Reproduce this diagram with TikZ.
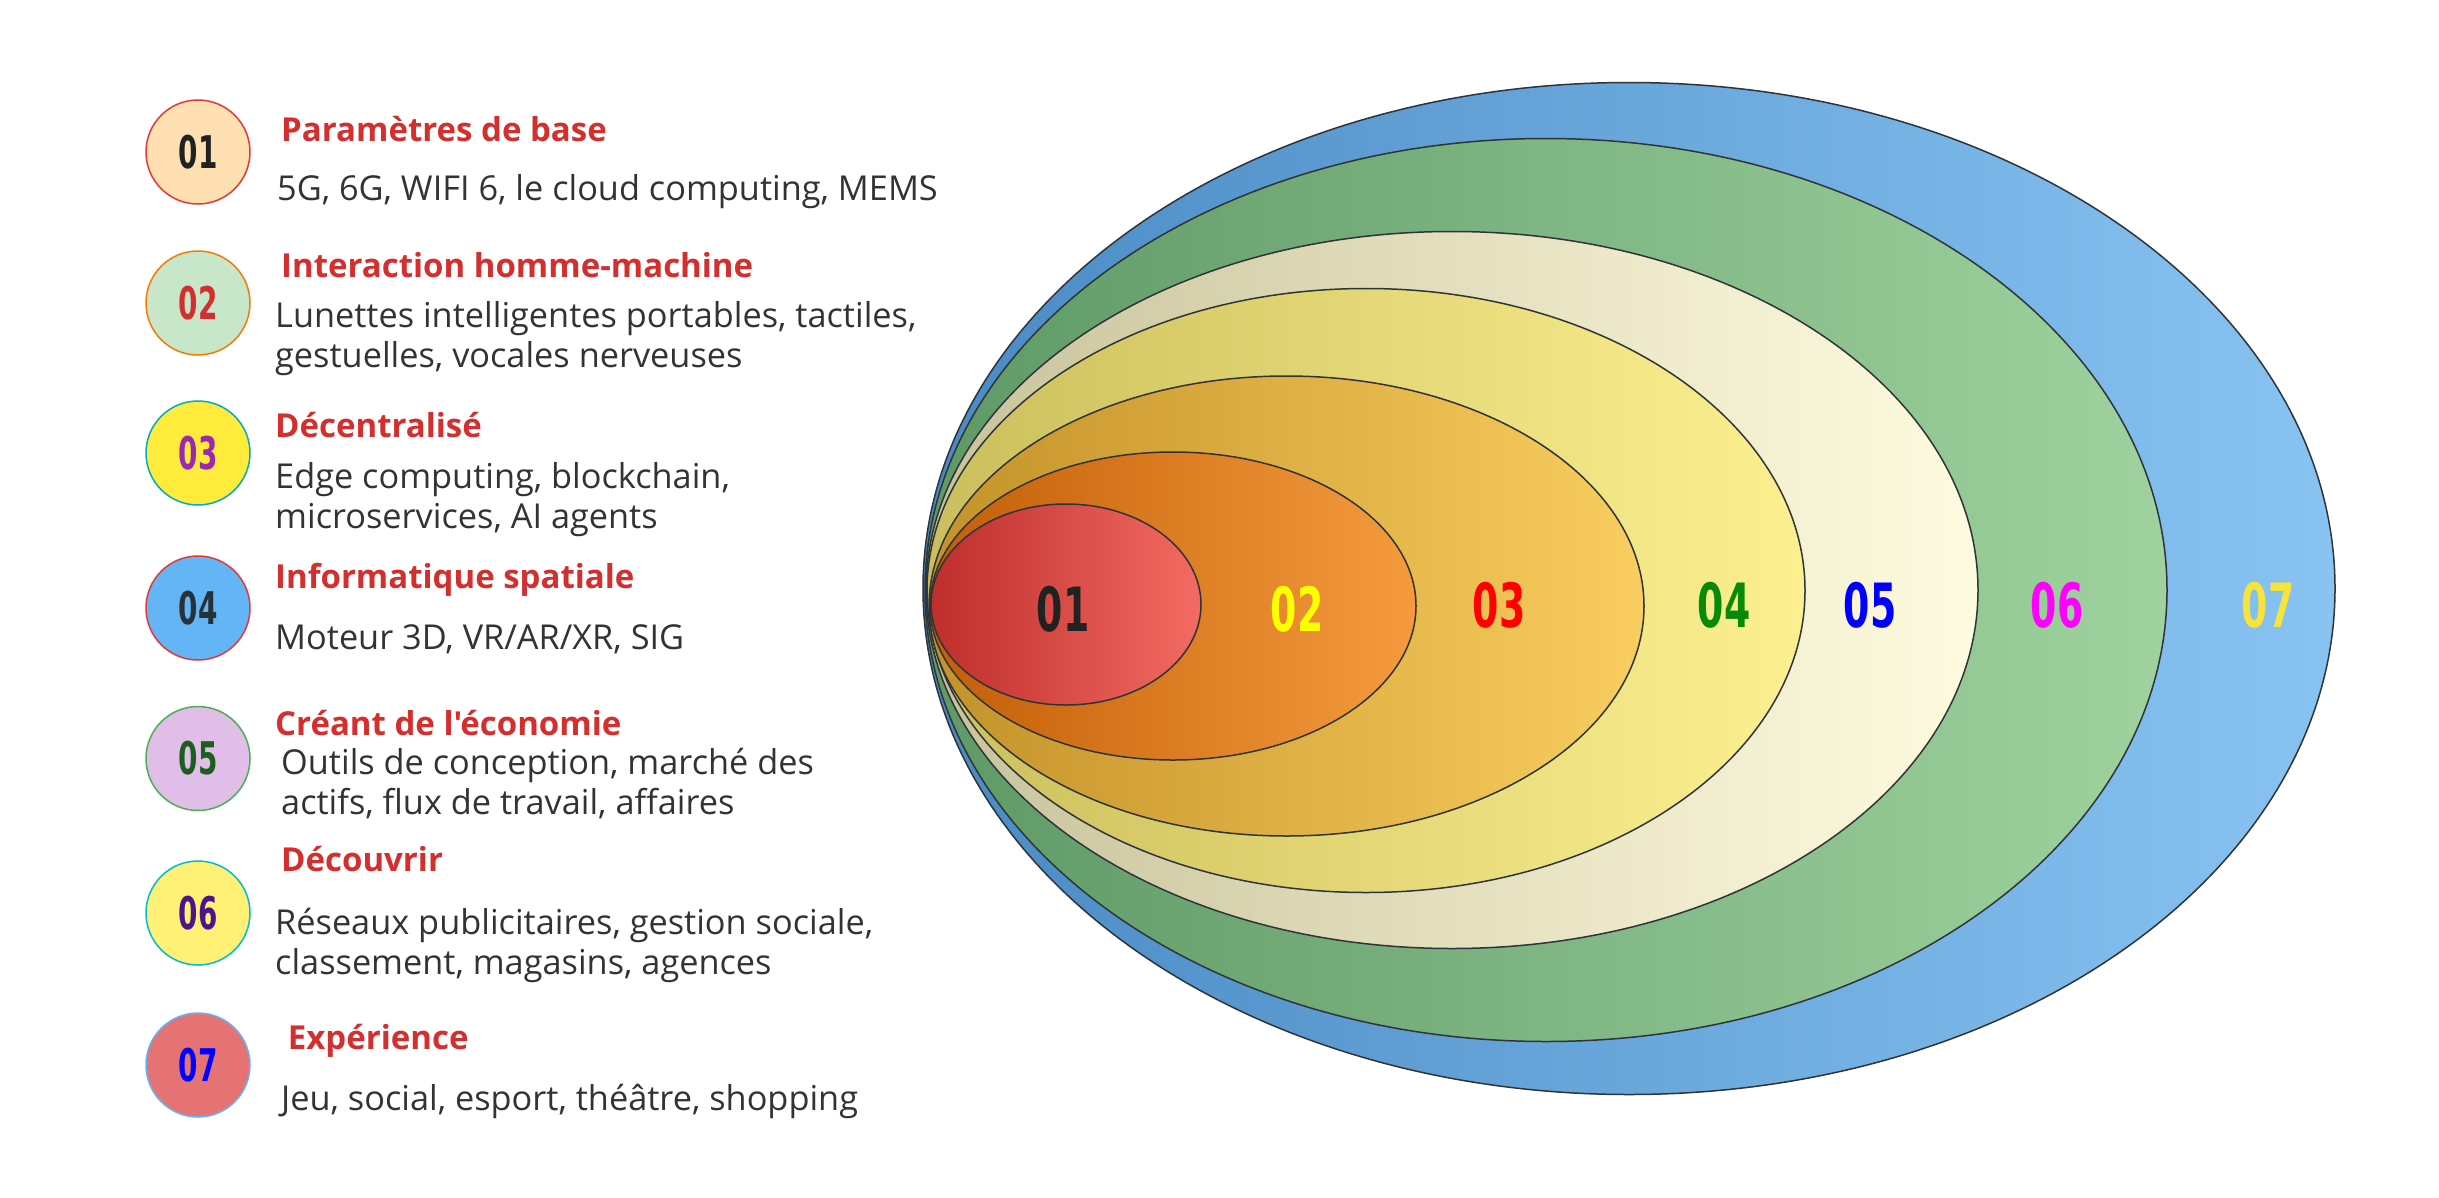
\documentclass[tikz,border=0pt]{standalone}
\usepackage{fontspec}
\setmainfont{Open Sans}
\newfontfamily\headfont{Open Sans}[Ligatures=TeXOff]
\newfontfamily\numfont{DejaVu Sans}
\usetikzlibrary{shapes.geometric}
\definecolor{ringline}{HTML}{2F3438}
\definecolor{headred}{HTML}{D32F2F}
\definecolor{bodygray}{HTML}{333333}
\definecolor{eSevL}{HTML}{4A8AC4}\definecolor{eSevR}{HTML}{88C3F2}
\definecolor{eSixL}{HTML}{5E9966}\definecolor{eSixR}{HTML}{9FD29F}
\definecolor{eFivL}{HTML}{C8C39B}\definecolor{eFivR}{HTML}{FFFBE0}
\definecolor{eFouL}{HTML}{CBBE5C}\definecolor{eFouR}{HTML}{FDF091}
\definecolor{eThrL}{HTML}{C4922A}\definecolor{eThrR}{HTML}{F9CD5F}
\definecolor{eTwoL}{HTML}{C25E08}\definecolor{eTwoR}{HTML}{F59B3E}
\definecolor{eOneL}{HTML}{BE2E2C}\definecolor{eOneR}{HTML}{F36B63}
\definecolor{nA}{HTML}{222222}\definecolor{nB}{HTML}{FFFF00}
\definecolor{nC}{HTML}{FF0000}\definecolor{nD}{HTML}{088A08}
\definecolor{nE}{HTML}{0000FF}\definecolor{nF}{HTML}{FF00FF}
\definecolor{nG}{HTML}{F7E43A}
\definecolor{cAd}{HTML}{E53935}\definecolor{cAf}{HTML}{FFE0B2}\definecolor{cAt}{HTML}{212121}
\definecolor{cBd}{HTML}{F57C00}\definecolor{cBf}{HTML}{C8E6C9}\definecolor{cBt}{HTML}{D32F2F}
\definecolor{cCd}{HTML}{00ACC1}\definecolor{cCf}{HTML}{FFEB3B}\definecolor{cCt}{HTML}{9C27B0}
\definecolor{cDd}{HTML}{E53935}\definecolor{cDf}{HTML}{64B5F6}\definecolor{cDt}{HTML}{263238}
\definecolor{cEd}{HTML}{4CAF50}\definecolor{cEf}{HTML}{E1BEE7}\definecolor{cEt}{HTML}{1B5E20}
\definecolor{cFd}{HTML}{00BCD4}\definecolor{cFf}{HTML}{FFF176}\definecolor{cFt}{HTML}{4A148C}
\definecolor{cGd}{HTML}{64B5F6}\definecolor{cGf}{HTML}{E57373}\definecolor{cGt}{HTML}{0000FF}
\newcommand\sqz[1]{\scalebox{0.62}[1]{#1}}
\begin{document}
\begin{tikzpicture}[x=1pt,y=-1pt,
  ring/.style={ellipse, draw=ringline, line width=1.5pt, inner sep=0pt},
  bignum/.style={font=\numfont\bfseries\fontsize{61}{61}\selectfont, inner sep=0pt},
  badge/.style={circle, minimum size=104pt, line width=1.5pt, inner sep=0pt},
  smallnum/.style={font=\numfont\bfseries\fontsize{45}{45}\selectfont, inner sep=0pt},
  head/.style={anchor=base west, inner sep=0pt, text=headred, font=\headfont\bfseries\fontsize{33}{38}\selectfont},
  body/.style={anchor=base west, inner sep=0pt, text=bodygray, font=\fontsize{34.3}{40}\selectfont}]
\useasboundingbox (0,0) rectangle (2439,1197);
\fill[white] (0,0) rectangle (2439,1197);

% nested ellipses
\node[ring, minimum width=1412pt, minimum height=1012pt, left color=eSevL, right color=eSevR] (e7) at (1629,588.5) {};
\node[ring, minimum width=1242pt, minimum height=903pt, left color=eSixL, right color=eSixR] (e6) at (1546,590) {};
\node[ring, minimum width=1052pt, minimum height=717pt, left color=eFivL, right color=eFivR] (e5) at (1452,590) {};
\node[ring, minimum width=878pt, minimum height=604pt, left color=eFouL, right color=eFouR] (e4) at (1366,590.5) {};
\node[ring, minimum width=715pt, minimum height=460pt, left color=eThrL, right color=eThrR] (e3) at (1286.5,606) {};
\node[ring, minimum width=486pt, minimum height=308pt, left color=eTwoL, right color=eTwoR] (e2) at (1173,606) {};
\node[ring, minimum width=270pt, minimum height=201pt, left color=eOneL, right color=eOneR] (e1) at (1066,604.5) {};

% numbers in the rings
\node[bignum, text=nA] (n1) at (1063,609) {\sqz{01}};
\node[bignum, text=nB] (n2) at (1297,609) {\sqz{02}};
\node[bignum, text=nC] (n3) at (1499,605) {\sqz{03}};
\node[bignum, text=nD] (n4) at (1724,605) {\sqz{04}};
\node[bignum, text=nE] (n5) at (1870,605) {\sqz{05}};
\node[bignum, text=nF] (n6) at (2057,605) {\sqz{06}};
\node[bignum, text=nG] (n7) at (2268,605) {\sqz{07}};

% badges
\node[badge, draw=cAd, fill=cAf] (c1) at (198,152) {};
\node[badge, draw=cBd, fill=cBf] (c2) at (198,303) {};
\node[badge, draw=cCd, fill=cCf] (c3) at (198,453) {};
\node[badge, draw=cDd, fill=cDf] (c4) at (198,608) {};
\node[badge, draw=cEd, fill=cEf] (c5) at (198,758.5) {};
\node[badge, draw=cFd, fill=cFf] (c6) at (198,913) {};
\node[badge, draw=cGd, fill=cGf] (c7) at (198,1065) {};

\node[smallnum, text=cAt] (s1) at (c1) {\sqz{01}};
\node[smallnum, text=cBt] (s2) at (c2) {\sqz{02}};
\node[smallnum, text=cCt] (s3) at (c3) {\sqz{03}};
\node[smallnum, text=cDt] (s4) at (c4) {\sqz{04}};
\node[smallnum, text=cEt] (s5) at (c5) {\sqz{05}};
\node[smallnum, text=cFt] (s6) at (c6) {\sqz{06}};
\node[smallnum, text=cGt] (s7) at (c7) {\sqz{07}};

% headings
\node[head] (h1) at (281,141.7) {Paramètres de base};
\node[head] (h2) at (281,277.3) {Interaction homme-machine};
\node[head] (h3) at (275,437.3) {Décentralisé};
\node[head] (h4) at (275,588.3) {Informatique spatiale};
\node[head] (h5) at (275,735.5) {Créant de l'économie};
\node[head] (h6) at (281,871) {Découvrir};
\node[head] (h7) at (287.7,1049) {Expérience};

% descriptions
\node[body] (b1) at (277,200.7) {5G, 6G, WIFI 6, le cloud computing, MEMS};
\node[body] (b2a) at (275,327.3) {Lunettes intelligentes portables, tactiles,};
\node[body] (b2b) at (275,367.3) {gestuelles, vocales nerveuses};
\node[body] (b3a) at (275,488.3) {Edge computing, blockchain,};
\node[body] (b3b) at (275,528.3) {microservices, AI agents};
\node[body] (b4) at (275,649) {Moteur 3D, VR/AR/XR, SIG};
\node[body] (b5a) at (281,774) {Outils de conception, marché des};
\node[body] (b5b) at (281,814.5) {actifs, flux de travail, affaires};
\node[body] (b6a) at (275,934) {Réseaux publicitaires, gestion sociale,};
\node[body] (b6b) at (275,974) {classement, magasins, agences};
\node[body] (b7) at (281,1110) {Jeu, social, esport, théâtre, shopping};
\end{tikzpicture}
\end{document}
